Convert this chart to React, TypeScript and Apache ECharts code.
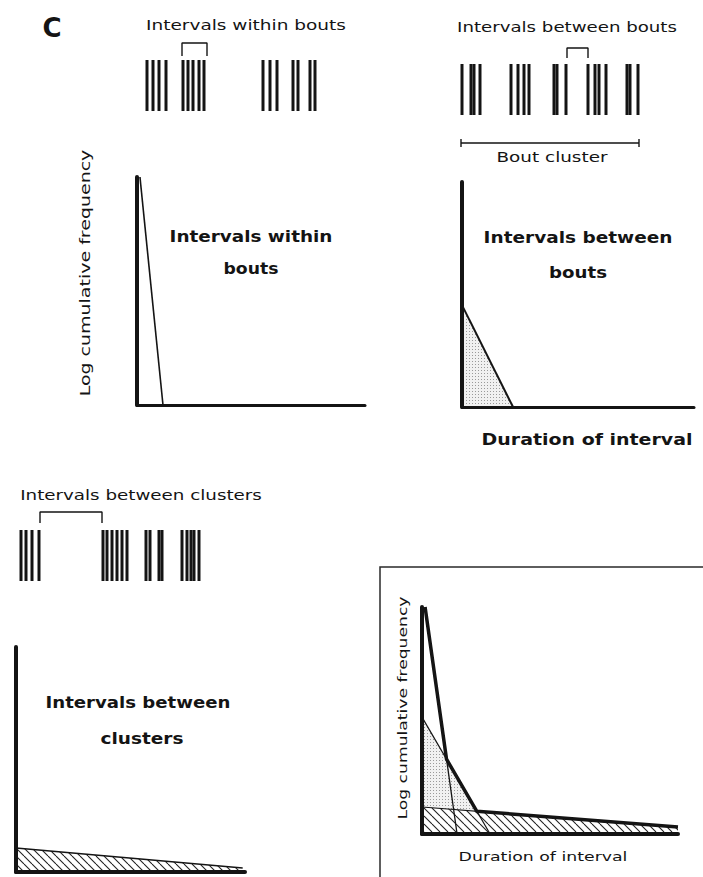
import React, { useEffect, useRef } from 'react';
import * as echarts from 'echarts';

// Event times (arbitrary time units) on the three recording strips
const withinStripEvents = [7, 13, 19, 26, 43, 48, 53, 59, 64, 123, 130, 137, 153, 158, 170, 175];
const withinStripBracket = [42, 67];
const betweenStripEvents = [7, 16, 19, 25, 56, 63, 69, 74, 99, 102, 111, 133, 140, 144, 151, 172, 175, 183];
const betweenStripBracket = [112, 133];
const boutClusterSpan = [6, 184];
const clusterStripEvents = [6, 11, 17, 24, 88, 92, 97, 102, 107, 112, 131, 135, 144, 147, 167, 172, 176, 179, 184];
const clusterStripBracket = [25, 87];
const EVENT_HEIGHT = 51;

// Log cumulative frequency against duration of interval (both in % of axis)
const withinBoutsCurve = [[1.3, 100], [11.4, 0]];
const betweenBoutsCurve = [[0, 45.3], [22, 0]];
const betweenClustersCurve = [[0, 10.7], [99, 1.8]];
// Combined survivorship plot: the three processes superimposed
const combinedWithin = [[1.2, 100], [13.7, 0]];
const combinedBetweenBouts = [[0, 51.5], [26.6, 0]];
const combinedBetweenClusters = [[0, 11.9], [100, 3.1]];

const INK = '#141414';
const FONT = '"DejaVu Sans", "Liberation Sans", sans-serif';

// Where two straight curve segments cross
function crossing(a: number[][], b: number[][]): number[] {
  const [x1, y1] = a[0], [x2, y2] = a[1];
  const [x3, y3] = b[0], [x4, y4] = b[1];
  const d = (x1 - x2) * (y3 - y4) - (y1 - y2) * (x3 - x4);
  const t = ((x1 - x3) * (y3 - y4) - (y1 - y3) * (x3 - x4)) / d;
  return [x1 + t * (x2 - x1), y1 + t * (y2 - y1)];
}

const combinedEnvelope = [
  combinedWithin[0],
  crossing(combinedWithin, combinedBetweenBouts),
  crossing(combinedBetweenBouts, combinedBetweenClusters),
  combinedBetweenClusters[1],
];

function makePattern(kind: 'dots' | 'hatch') {
  const c = document.createElement('canvas');
  const size = kind === 'dots' ? 3 : 8;
  c.width = size;
  c.height = size;
  const ctx = c.getContext('2d')!;
  if (kind === 'dots') {
    ctx.fillStyle = '#f1f1f1';
    ctx.fillRect(0, 0, size, size);
    ctx.fillStyle = '#9a9a9a';
    ctx.fillRect(1, 1, 1, 1);
  } else {
    ctx.fillStyle = '#ffffff';
    ctx.fillRect(0, 0, size, size);
    ctx.strokeStyle = '#202020';
    ctx.lineWidth = 1.1;
    for (const k of [-size, 0, size]) {
      ctx.beginPath();
      ctx.moveTo(k, 0);
      ctx.lineTo(k + size, size);
      ctx.stroke();
    }
  }
  return { image: c.toDataURL(), repeat: 'repeat', imageWidth: size, imageHeight: size };
}

// Horizontal stretch so a label spans the same width as the spaced lettering
function stretch(text: string, font: string, target: number) {
  const ctx = document.createElement('canvas').getContext('2d')!;
  ctx.font = font;
  const w = ctx.measureText(text).width;
  return w > 0 ? target / w : 1;
}

function label(text: string, cx: number, cy: number, size: number, bold: boolean, width?: number, vertical = false) {
  const font = `${bold ? 'bold ' : ''}${size}px ${FONT}`;
  const sx = width ? stretch(text, font, width) : 1;
  return {
    type: 'text',
    x: cx,
    y: cy,
    rotation: vertical ? Math.PI / 2 : 0,
    scaleX: sx,
    silent: true,
    style: {
      text,
      font,
      fill: INK,
      textAlign: 'center',
      textVerticalAlign: 'middle',
    },
  };
}

const hiddenAxis = (gridIndex: number, min: number, max: number) => ({
  type: 'value', gridIndex, min, max, show: false,
});

const plotAxis = (gridIndex: number, width: number) => ({
  type: 'value',
  gridIndex,
  min: 0,
  max: 100,
  z: 5,
  axisLine: { show: true, onZero: false, lineStyle: { color: INK, width } },
  axisTick: { show: false },
  axisLabel: { show: false },
  splitLine: { show: false },
});

function eventSeries(gridIndex: number, events: number[]) {
  return {
    type: 'custom',
    xAxisIndex: gridIndex,
    yAxisIndex: gridIndex,
    silent: true,
    data: events.map((t) => [t, EVENT_HEIGHT]),
    renderItem: (_p: any, api: any) => {
      const base = api.coord([api.value(0), 0]);
      const top = api.coord([api.value(0), api.value(1)]);
      return {
        type: 'rect',
        shape: { x: base[0] - 1.5, y: top[1], width: 3, height: base[1] - top[1] },
        style: { fill: INK },
      };
    },
  };
}

function strokeSeries(gridIndex: number, data: number[][], width: number, extra: any = {}) {
  return {
    type: 'line',
    xAxisIndex: gridIndex,
    yAxisIndex: gridIndex,
    data,
    symbol: 'none',
    silent: true,
    lineStyle: { color: INK, width },
    ...extra,
  };
}

function bracket(gridIndex: number, span: number[], end: number, top: number) {
  return strokeSeries(gridIndex, [[span[0], end], [span[0], top], [span[1], top], [span[1], end]], 1.4);
}

export default function App() {
  const ref = useRef<HTMLDivElement>(null);

  useEffect(() => {
    if (!ref.current) return;
    const chart = echarts.init(ref.current, null, { renderer: 'svg' });
    const dots = makePattern('dots');
    const hatch = makePattern('hatch');

    chart.setOption({
      animation: false,
      backgroundColor: '#ffffff',
      grid: [
        { left: 140, top: 40, width: 180, height: 71 },
        { left: 455, top: 40, width: 190, height: 110 },
        { left: 15, top: 509, width: 195, height: 72 },
        { left: 137, top: 177, width: 228, height: 228 },
        { left: 462, top: 182, width: 232, height: 225 },
        { left: 16, top: 647, width: 229, height: 225 },
        { left: 422, top: 607, width: 256, height: 227 },
      ],
      xAxis: [
        hiddenAxis(0, 0, 180),
        hiddenAxis(1, 0, 190),
        hiddenAxis(2, 0, 195),
        plotAxis(3, 3),
        plotAxis(4, 3),
        plotAxis(5, 4),
        plotAxis(6, 4),
      ],
      yAxis: [
        hiddenAxis(0, 0, 71),
        hiddenAxis(1, -35, 75),
        hiddenAxis(2, 0, 72),
        plotAxis(3, 4),
        plotAxis(4, 4),
        plotAxis(5, 4),
        plotAxis(6, 4),
      ],
      series: [
        // recording strips
        eventSeries(0, withinStripEvents),
        bracket(0, withinStripBracket, 55, 68),
        eventSeries(1, betweenStripEvents),
        bracket(1, betweenStripBracket, 57, 67),
        strokeSeries(1, [
          [boutClusterSpan[0], -24], [boutClusterSpan[0], -32], [boutClusterSpan[0], -28],
          [boutClusterSpan[1], -28], [boutClusterSpan[1], -24], [boutClusterSpan[1], -32],
        ], 1.4),
        eventSeries(2, clusterStripEvents),
        bracket(2, clusterStripBracket, 58, 69),

        // single-process plots
        strokeSeries(3, withinBoutsCurve, 1.6),
        strokeSeries(4, betweenBoutsCurve, 2, { areaStyle: { color: dots, opacity: 1 } }),
        strokeSeries(5, betweenClustersCurve, 1.6, { areaStyle: { color: hatch, opacity: 1 } }),

        // combined plot
        strokeSeries(6, combinedBetweenBouts, 1.2, { areaStyle: { color: dots, opacity: 1 } }),
        strokeSeries(6, combinedBetweenClusters, 1.2, { areaStyle: { color: hatch, opacity: 1 } }),
        strokeSeries(6, combinedWithin, 1.3),
        strokeSeries(6, combinedEnvelope, 3.5),
      ],
      graphic: [
        {
          type: 'rect',
          silent: true,
          shape: { x: 380, y: 567, width: 340, height: 330 },
          style: { fill: 'none', stroke: '#2a2a2a', lineWidth: 1.5 },
        },
        label('C', 52, 28, 26, true),
        label('Intervals within bouts', 246, 25, 14, false, 200),
        label('Intervals between bouts', 567, 27, 14, false, 220),
        label('Bout cluster', 552, 157, 14, false, 111),
        label('Log cumulative frequency', 85, 273, 14, false, 247, true),
        label('Intervals within', 251, 237, 15, true, 163),
        label('bouts', 251, 269, 15, true, 55),
        label('Intervals between', 578, 238, 15, true, 189),
        label('bouts', 578, 273, 15, true, 58),
        label('Duration of interval', 587, 440, 15, true, 211),
        label('Intervals between clusters', 141, 495, 14, false, 242),
        label('Intervals between', 138, 703, 15, true, 185),
        label('clusters', 142, 739, 15, true, 83),
        label('Log cumulative frequency', 403, 708, 13, false, 223, true),
        label('Duration of interval', 543, 857, 13, false, 169),
      ],
    });

    return () => chart.dispose();
  }, []);

  return (
    <div
      ref={ref}
      style={{ position: 'fixed', left: 0, top: 0, width: 703, height: 877, background: '#fff' }}
    />
  );
}
